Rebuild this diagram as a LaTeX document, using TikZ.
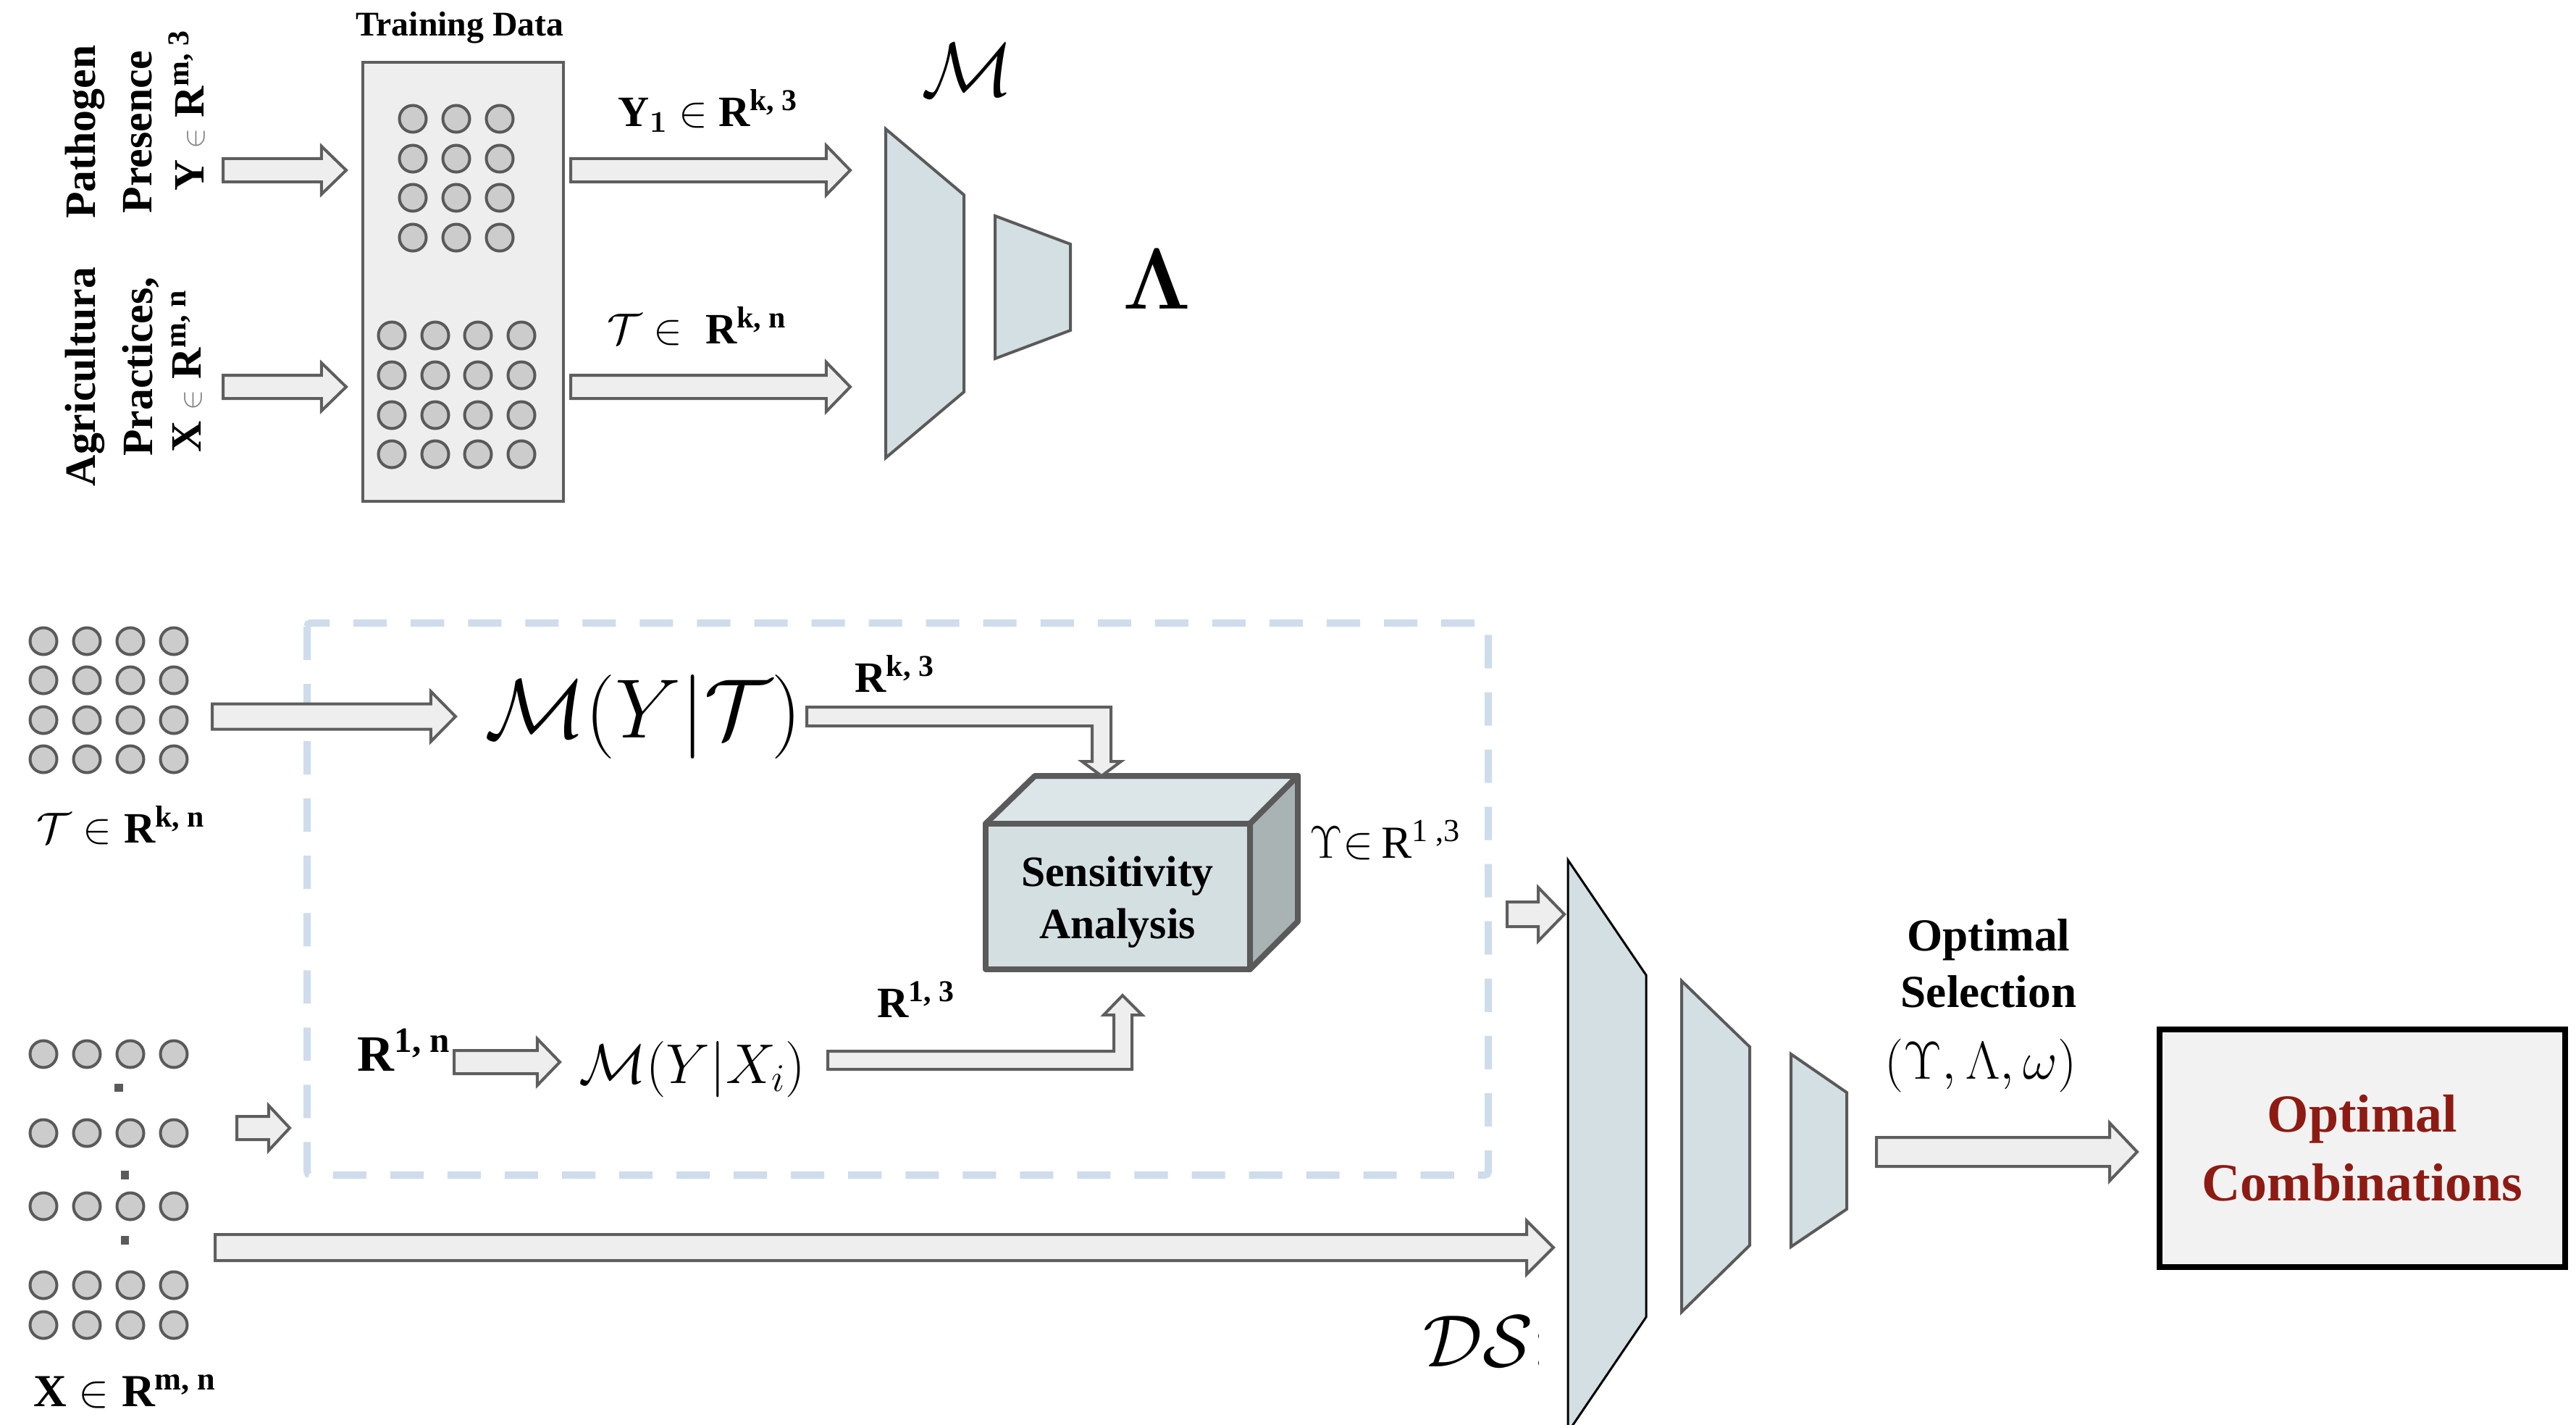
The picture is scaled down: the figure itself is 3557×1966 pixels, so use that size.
\RequirePackage{fix-cm}
\documentclass[tikz,border=0pt]{standalone}
\usepackage[no-math]{fontspec}
\setmainfont{Liberation Serif}
\usetikzlibrary{calc}
\definecolor{arrowgray}{HTML}{5E5E5E}
\definecolor{arrowfill}{HTML}{EEEEEE}
\definecolor{dotfill}{HTML}{CCCCCC}
\definecolor{dotborder}{HTML}{5A5A5A}
\definecolor{trapfill}{HTML}{D3DFE3}
\definecolor{trapborder}{HTML}{5A5A5A}
\definecolor{dashblue}{HTML}{CFDCEC}
\definecolor{cubefront}{HTML}{D4DFE2}
\definecolor{cubetop}{HTML}{DCE6E8}
\definecolor{cubeside}{HTML}{A9B3B4}
\definecolor{optred}{HTML}{8E1B13}
\definecolor{boxfill}{HTML}{F2F2F2}
\definecolor{trainfill}{HTML}{EEEEEE}
\newcommand{\fsz}[2]{\fontsize{#1}{#2}\selectfont}
% horizontal block arrow: start, end, body half, head half, head length
\newcommand{\harr}[5]{\draw[barrow] let \p1=(#1), \p2=(#2) in
  (\x1,{\y1+#3}) -- ({\x2-#5},{\y1+#3}) -- ({\x2-#5},{\y1+#4}) -- (\x2,\y1)
  -- ({\x2-#5},{\y1-#4}) -- ({\x2-#5},{\y1-#3}) -- (\x1,{\y1-#3}) -- cycle;}
\tikzset{
  barrow/.style={draw=arrowgray, fill=arrowfill, line width=0.04cm, line join=miter},
  dot/.style={circle, draw=dotborder, fill=dotfill, line width=0.04cm, minimum size=0.37cm, inner sep=0pt},
  trap/.style={draw=trapborder, fill=trapfill, line width=0.04cm},
  lbl/.style={inner sep=0pt, font=\fsz{17}{20}\bfseries},
  rlbl/.style={inner sep=0pt, rotate=90, font=\fsz{17}{20}\bfseries},
  mlbl/.style={inner sep=0pt},
  cubeline/.style={draw=dotborder, line width=0.08cm, line join=round},
}
\begin{document}
\begin{tikzpicture}[x=0.01cm,y=-0.01cm]
\clip (0,0) rectangle (3557,1966);
\fill[white] (0,0) rectangle (3557,1966);

% ---------------- top section ----------------
\node[lbl, font=\fsz{13.6}{16}\bfseries] (tdtitle) at (635,38) {Training Data};
\node[draw=arrowgray, fill=trainfill, line width=0.035cm, minimum width=2.77cm, minimum height=6.06cm, inner sep=0pt] (train) at (639.5,389) {};

\node[rlbl] (path1) at (117,182) {Pathogen};
\node[rlbl] (path2) at (190,182) {Presence};
\node[rlbl] (path3) at (258,152) {Y {\color{gray}\mdseries\fsz{12}{14}$\in$} R\textsuperscript{m, 3}};
\node[rlbl] (agr1) at (117,520) {Agricultura};
\node[rlbl] (agr2) at (194,506) {Practices,};
\node[rlbl] (agr3) at (258,512) {X {\color{gray}\mdseries\fsz{12}{14}$\in$} R\textsuperscript{m, n}};

\foreach \c/\x in {1/570,2/630,3/690}
  \foreach \r/\y in {1/164,2/219,3/273,4/328}
    \node[dot] (ty-\c-\r) at (\x,\y) {};
\foreach \c/\x in {1/541,2/601,3/660,4/720}
  \foreach \r/\y in {1/463,2/518,3/573,4/627}
    \node[dot] (tx-\c-\r) at (\x,\y) {};

\coordinate (a1s) at (308,235); \coordinate (a1e) at (478,235);
\coordinate (a2s) at (308,534); \coordinate (a2e) at (478,534);
\coordinate (a3s) at (788,235); \coordinate (a3e) at (1174,235);
\coordinate (a4s) at (788,534); \coordinate (a4e) at (1174,534);
\harr{a1s}{a1e}{0.16cm}{0.33cm}{0.34cm}
\harr{a2s}{a2e}{0.16cm}{0.33cm}{0.34cm}
\harr{a3s}{a3e}{0.16cm}{0.34cm}{0.33cm}
\harr{a4s}{a4e}{0.16cm}{0.34cm}{0.33cm}

\node[lbl, anchor=base west] (y1lbl) at (853,174) {Y$_{\mathbf{1}}$ \mdseries$\in$ \bfseries R\textsuperscript{k, 3}};
\node[lbl, anchor=base west] (tlbl) at (838,474) {\mdseries$\mathcal{T}\in{}$\ \bfseries R\textsuperscript{k, n}};

\draw[trap] (1223,178) -- (1331,269) -- (1331,541) -- (1223,632) -- cycle;
\draw[trap] (1374,298) -- (1478,337) -- (1478,456) -- (1374,495) -- cycle;
\node[mlbl, font=\fsz{30}{36}] (mlab) at (1336,96) {$\mathcal{M}$};
\node[mlbl, font=\fsz{34}{40}, anchor=base west] (lamlab) at (1550,426) {$\mathbf{\Lambda}$};

% ---------------- bottom section ----------------
\draw[dashblue, line width=0.1cm, dash pattern=on 0.46cm off 0.33cm, rounded corners=0.05cm]
  (424,860) rectangle (2055,1622);

\foreach \c/\x in {1/60,2/120,3/180,4/240}
  \foreach \r/\y in {1/885,2/939,3/994,4/1048}
    \node[dot] (gt-\c-\r) at (\x,\y) {};
\node[lbl, anchor=base west] (tlbl2) at (50,1163) {\mdseries$\mathcal{T}\in{}$\bfseries R\textsuperscript{k, n}};

\foreach \c/\x in {1/60,2/120,3/180,4/240}
  \foreach \r/\y in {1/1455,2/1564,3/1665,4/1774,5/1829}
    \node[dot] (gx-\c-\r) at (\x,\y) {};
\fill[dotborder] (158,1496) rectangle (170,1507);
\fill[dotborder] (167,1616) rectangle (178,1628);
\fill[dotborder] (167,1706) rectangle (178,1718);
\node[lbl, anchor=base west, font=\fsz{18}{20}\bfseries] (xlbl) at (46,1941) {X \mdseries$\in{}$\bfseries R\textsuperscript{m, n}};

% M(Y|T)
\node[mlbl, font=\fsz{33}{40}] (myt) at (888,989) {$\mathcal{M}(Y|\mathcal{T})$};
\coordinate (a5s) at (293,989); \coordinate (a5e) at (629,989);
\harr{a5s}{a5e}{0.175cm}{0.345cm}{0.34cm}

% cube
\draw[cubeline, fill=cubetop] (1361,1137) -- (1429,1071) -- (1792,1071) -- (1726,1137) -- cycle;
\draw[cubeline, fill=cubeside] (1726,1137) -- (1792,1071) -- (1792,1272) -- (1726,1338) -- cycle;
\draw[cubeline, fill=cubefront] (1361,1137) rectangle (1726,1338);
\node[lbl, align=center, font=\fsz{17}{20.5}\bfseries] (sens) at (1543,1245) {Sensitivity\\Analysis};

% bent arrow from M(Y|T) to cube
\draw[barrow] (1114,976) -- (1534,976) -- (1534,1051) -- (1548,1051) -- (1521,1071)
  -- (1494,1051) -- (1508,1051) -- (1508,1002) -- (1114,1002) -- cycle;
\node[lbl, anchor=base west] (rk3) at (1180,955) {R\textsuperscript{k, 3}};

\node[mlbl, anchor=base west, font=\fsz{18}{20}] (upslbl) at (1808,1184) {$\Upsilon{\in}$\,R\textsuperscript{1 ,3}};

% R^{1,n} -> M(Y|X_i)
\node[lbl, anchor=base west, font=\fsz{20}{24}\bfseries] (r1n) at (493,1478) {R\textsuperscript{1, n}};
\coordinate (a8s) at (627,1466); \coordinate (a8e) at (773,1466);
\harr{a8s}{a8e}{0.16cm}{0.32cm}{0.31cm}
\node[mlbl, font=\fsz{22}{26}] (myx) at (956,1476) {$\mathcal{M}(Y|X_i)$};

% bent arrow from M(Y|X_i) to cube
\draw[barrow] (1143,1451) -- (1538,1451) -- (1538,1401) -- (1524,1401) -- (1550,1374)
  -- (1577,1401) -- (1563,1401) -- (1563,1476) -- (1143,1476) -- cycle;
\node[lbl, anchor=base west] (r13) at (1211,1404) {R\textsuperscript{1, 3}};

% small left arrow and long bottom arrow
\coordinate (a9s) at (327,1557); \coordinate (a9e) at (400,1557);
\harr{a9s}{a9e}{0.16cm}{0.31cm}{0.29cm}
\coordinate (a10s) at (297,1722); \coordinate (a10e) at (2145,1722);
\harr{a10s}{a10e}{0.18cm}{0.37cm}{0.37cm}
\coordinate (a11s) at (2081,1262); \coordinate (a11e) at (2160,1262);
\harr{a11s}{a11e}{0.17cm}{0.37cm}{0.36cm}

% DS network
\begin{scope}
  \clip (1900,1770) rectangle (2124,1960);
  \node[mlbl, anchor=base west, font=\fsz{29}{34}] (dslbl) at (1965,1886) {$\mathcal{DS}$:};
\end{scope}
\draw[fill=trapfill, draw=black, line width=0.03cm] (2165,1187) -- (2273,1346) -- (2273,1818) -- (2165,1977) -- cycle;
\draw[trap] (2322,1354) -- (2416,1445) -- (2416,1719) -- (2322,1811) -- cycle;
\draw[trap] (2473,1455) -- (2550,1508) -- (2550,1669) -- (2473,1721) -- cycle;

% optimal selection
\node[lbl, align=center, font=\fsz{18}{22}\bfseries] (optsel) at (2746,1330) {Optimal\\Selection};
\node[mlbl, font=\fsz{21}{25}] (tuple) at (2735,1471) {$(\Upsilon,\Lambda,\omega)$};
\coordinate (a12s) at (2591,1590); \coordinate (a12e) at (2951,1590);
\harr{a12s}{a12e}{0.20cm}{0.40cm}{0.38cm}

\node[draw=black, fill=boxfill, line width=0.08cm, minimum width=5.59cm, minimum height=3.28cm,
  align=center, text=optred, font=\fsz{21}{27}\bfseries] (optbox) at (3262,1585) {Optimal\\Combinations};
\end{tikzpicture}
\end{document}
